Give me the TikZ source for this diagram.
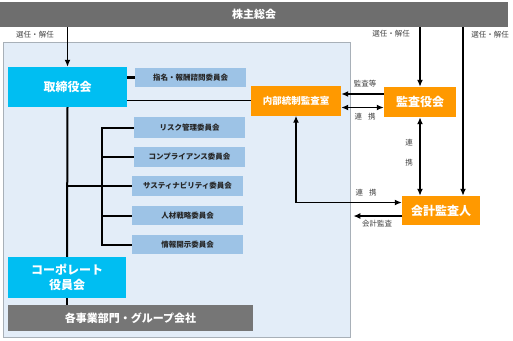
\documentclass[tikz,border=0pt]{standalone}
\usepackage{fontspec}
\setmainfont{Noto Sans CJK JP}
\usetikzlibrary{arrows.meta}
\definecolor{bargray}{HTML}{6E6E6E}
\definecolor{unitgray}{HTML}{767676}
\definecolor{boardcyan}{HTML}{00BEF2}
\definecolor{cmtblue}{HTML}{9DC3E6}
\definecolor{auditorange}{HTML}{FF9900}
\definecolor{panelblue}{HTML}{E3EDF8}
\definecolor{panelline}{HTML}{A8B0B8}
\definecolor{labelgray}{HTML}{404040}

\begin{document}
\begin{tikzpicture}[
  x=1pt,y=-1pt,
  >={Latex[length=7pt,width=6pt]},
  boardbox/.style={fill=boardcyan, text=white, inner sep=0pt, align=center,
    font=\fontsize{12}{15}\selectfont\bfseries},
  cmtbox/.style={fill=cmtblue, text=black!85, inner sep=0pt,
    minimum width=111pt, font=\fontsize{7.5}{9}\selectfont\bfseries},
  auditbox/.style={fill=auditorange, text=white, inner sep=0pt,
    font=\fontsize{12}{14}\selectfont\bfseries},
  graybox/.style={fill=#1, text=white, inner sep=0pt,
    font=\fontsize{11}{13}\selectfont\bfseries},
  smalllabel/.style={text=labelgray, inner sep=0pt, font=\fontsize{7.5}{8}\selectfont},
  branch/.style={draw=black, line width=2pt},
  link/.style={draw=black, line width=1.8pt}
]
\path[use as bounding box] (0,0) rectangle (513,340);

% Shareholders bar and the framed executive area
\node[graybox=bargray, minimum width=508pt, minimum height=25pt] (bar) at (254,14.5) {株主総会};
\node[fill=panelblue, draw=panelline, line width=0.8pt, minimum width=347pt,
  minimum height=295pt, inner sep=0pt] (panel) at (176.5,189.5) {};

% Board side
\node[boardbox, minimum width=119pt, minimum height=40pt] (board) at (67.5,87) {取締役会};
\node[cmtbox, minimum height=19pt] (nomination) at (190.5,77.5) {指名・報酬諮問委員会};
\node[cmtbox, minimum height=21pt] (risk) at (189.5,127.5) {リスク管理委員会};
\node[cmtbox, minimum height=20pt] (compliance) at (189.5,157) {コンプライアンス委員会};
\node[cmtbox, minimum height=20pt] (sustain) at (187.5,186) {サスティナビリティ委員会};
\node[cmtbox, minimum height=19pt] (talent) at (187.5,215.5) {人材戦略委員会};
\node[cmtbox, minimum height=19pt] (disclosure) at (187.5,244.5) {情報開示委員会};
\node[boardbox, minimum width=118pt, minimum height=41pt] (corporate) at (67,277.5) {コーポレート\\役員会};
\node[graybox=unitgray, minimum width=245pt, minimum height=26pt] (units) at (130.5,318) {各事業部門・グループ会社};

% Audit side
\node[auditbox, minimum width=90pt, minimum height=30pt,
  font=\fontsize{9.5}{11}\selectfont\bfseries] (internal) at (296,100.5) {内部統制監査室};
\node[auditbox, minimum width=72pt, minimum height=30pt] (auditboard) at (420,102) {監査役会};
\node[auditbox, minimum width=78pt, minimum height=29pt] (accountant) at (441,210.5) {会計監査人};

% Board tree
\draw[branch] (board.south) -- (corporate.north);
\draw[branch] (corporate.south) -- (corporate.south |- units.north);
\draw[branch, line width=2.4pt] (board.east |- nomination.west) -- (nomination.west);
\draw[draw=black, line width=1pt] (board.east |- internal.west) -- (internal.west);
\coordinate (fork) at (102,186);
\draw[branch] (board.south |- sustain.west) -- (sustain.west);
\draw[branch] (risk.west) -| (fork) |- (disclosure.west);
\draw[branch] (fork |- compliance.west) -- (compliance.west);
\draw[branch] (fork |- talent.west) -- (talent.west);

% Appointment arrows from the shareholders
\coordinate (appoint) at ([xshift=22pt]accountant.north);
\draw[link, ->] (bar.south -| board.north) -- (board.north);
\draw[link, ->] (bar.south -| auditboard.north) -- (auditboard.north);
\draw[link, ->] (bar.south -| appoint) -- (appoint);
\node[smalllabel] (selA) at (35,35) {選任・解任};
\node[smalllabel] (selB) at (391,34) {選任・解任};
\node[smalllabel] (selC) at (490,35) {選任・解任};

% Audit relations
\draw[link, ->] ([yshift=8pt]auditboard.west) -- ([yshift=8pt]auditboard.west -| internal.east);
\node[smalllabel] (audA) at (365,84) {監査等};
\draw[link, <->] ([yshift=-7pt]internal.east) -- ([yshift=-7pt]internal.east -| auditboard.west);
\node[smalllabel] (linkA) at (365,117) {連\hspace{6pt}携};
\draw[link, <->] (auditboard.south) -- (auditboard.south |- accountant.north);
\node[smalllabel, align=center, font=\fontsize{7.5}{20}\selectfont] (linkB) at (409,153) {連\\携};
\draw[link, <->] (internal.south) |- ([yshift=8pt]accountant.west);
\node[smalllabel] (linkC) at (366,193) {連\hspace{6pt}携};
\draw[link, line width=1.3pt, ->] ([yshift=-5.5pt]accountant.west) -- ([yshift=-5.5pt,xshift=3pt]accountant.west -| panel.east);
\node[smalllabel] (audB) at (377,224) {会計監査};

\end{tikzpicture}
\end{document}
